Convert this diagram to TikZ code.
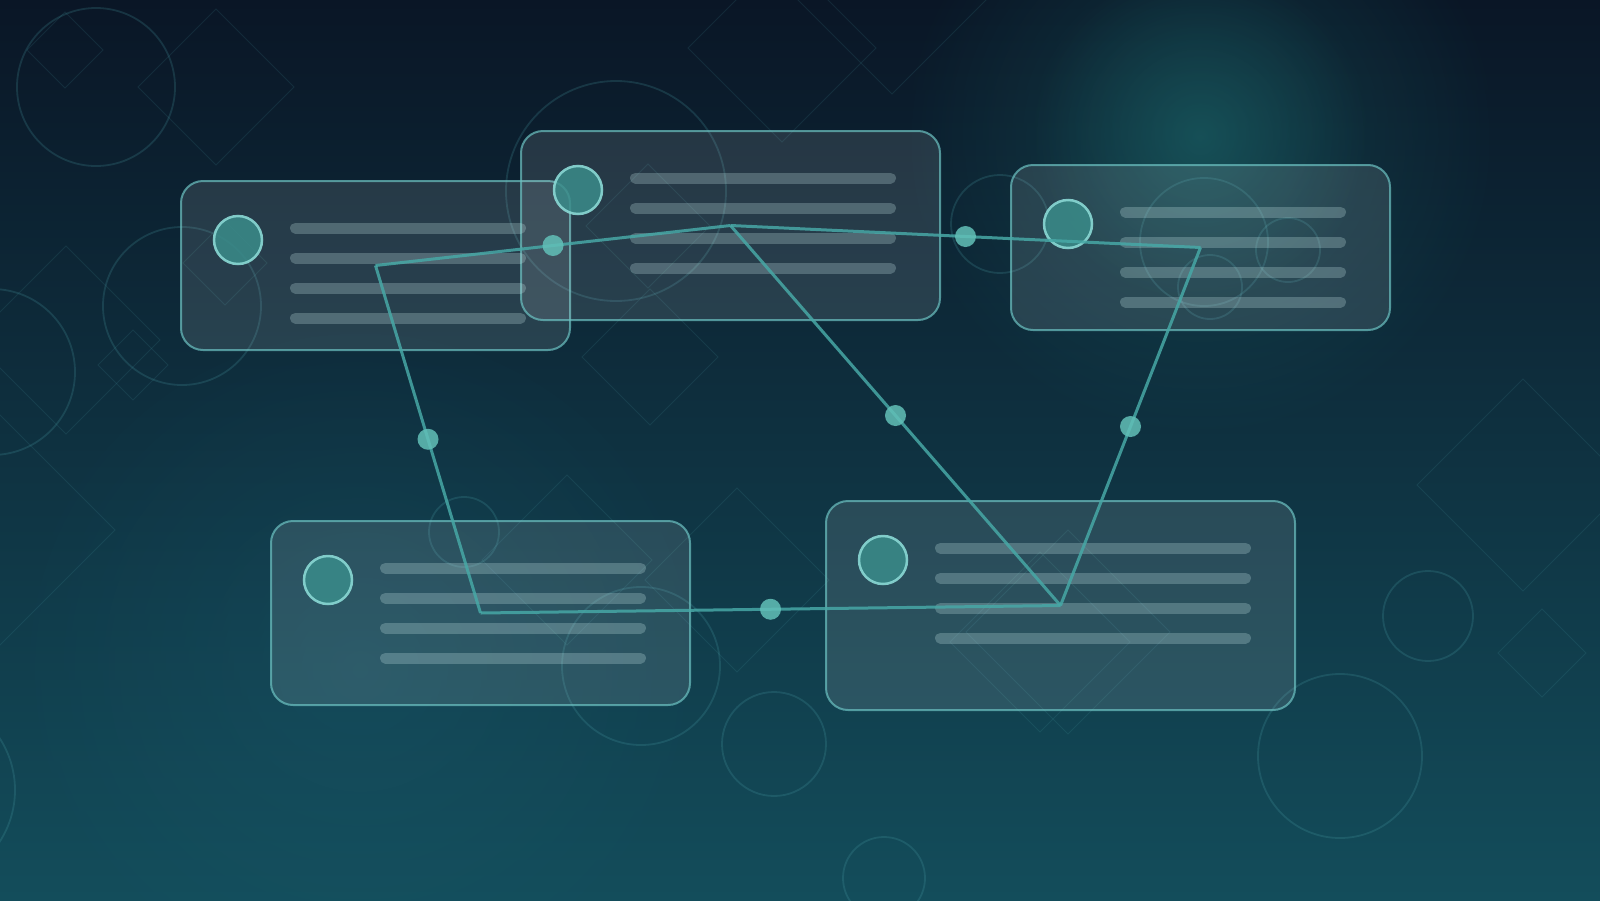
\documentclass[tikz,border=0pt]{standalone}
\usetikzlibrary{fadings,calc}
\definecolor{bgtop}{HTML}{0A1626}
\definecolor{bgmid}{HTML}{0E3243}
\definecolor{bgbot}{HTML}{134D5B}
\definecolor{glowc}{HTML}{1E7072}
\definecolor{glowb}{HTML}{1E6478}
\definecolor{deco}{HTML}{4FA8B0}
\definecolor{cardedge}{HTML}{6CC2C2}
\definecolor{avatarc}{HTML}{3A8C8A}
\definecolor{avataredge}{HTML}{8AD8D4}
\definecolor{barc}{HTML}{D0F0F0}
\definecolor{linkc}{HTML}{47A8A6}
\definecolor{dotc}{HTML}{62C0B8}
\tikzfading[name=glowfade, inner color=transparent!0, outer color=transparent!100]
\begin{document}
\begin{tikzpicture}[x=1pt,y=-1pt,
  decoc/.style={draw=deco, draw opacity=0.2, line width=1.8pt},
  decod/.style={draw=deco, draw opacity=0.13, line width=1pt},
  card/.style={rectangle, draw=cardedge, draw opacity=0.7, fill=white, fill opacity=0.11,
    line width=2pt, rounded corners=22pt, inner sep=0pt, outer sep=0pt},
  avatar/.style={circle, minimum size=48pt, inner sep=0pt, fill=avatarc, fill opacity=0.85,
    draw=avataredge, draw opacity=0.9, line width=2.5pt},
  barline/.style={draw=barc, draw opacity=0.25, line width=11pt, line cap=round},
  link/.style={draw=linkc, draw opacity=0.85, line width=3pt},
  dot/.style={circle, fill=dotc, fill opacity=0.85, minimum size=21pt, inner sep=0pt}]
\useasboundingbox (0,0) rectangle (1600,900);
% background
\shade[top color=bgtop, middle color=bgmid, bottom color=bgbot] (0,0) rectangle (1600,900);
\fill[glowc, path fading=glowfade, fill opacity=0.35] (1200,140) circle[radius=300pt];
\fill[glowc, path fading=glowfade, fill opacity=0.4] (1200,135) circle[radius=170pt];
\fill[glowb, path fading=glowfade, fill opacity=0.25] (360,670) circle[radius=360pt];
% decorative circles
\foreach \cx/\cy/\r in {96/87/79, 182/306/79, -8/372/83, 616/191/110, 1000/224/49,
  1204/242/64, 1210/287/32, 1288/250/32, 464/532/35, 641/666/79, 774/744/52,
  884/878/41, 1340/756/82, 1428/616/45, -80/790/95}
  \draw[decoc] (\cx,\cy) circle[radius=\r pt];
% decorative diamonds
\foreach \cx/\cy/\h in {216/87/78, 65/50/38, 66/340/94, 133/365/35, 225/263/42,
  650/357/68, 782/48/94, 892/0/94, 1523/485/106, 1542/653/44, 0/530/115,
  1068/632/102, 1040/642/90, 567/560/85, 737/580/92, 648/226/62}
  \draw[decod] (\cx,\cy-\h) -- (\cx+\h,\cy) -- (\cx,\cy+\h) -- (\cx-\h,\cy) -- cycle;
% cards
\node[card, minimum width=389pt, minimum height=169pt] (c1) at (375.5,265.5) {};
\node[card, minimum width=419pt, minimum height=189pt] (c2) at (730.5,225.5) {};
\node[card, minimum width=379pt, minimum height=165pt] (c3) at (1200.5,247.5) {};
\node[card, minimum width=419pt, minimum height=184pt] (c4) at (480.5,613) {};
\node[card, minimum width=469pt, minimum height=209pt] (c5) at (1060.5,605.5) {};
\foreach \c in {c1,c2,c3,c4,c5}{
  \node[avatar] (\c a) at ($(\c.north west)+(57,59)$) {};
  \foreach \dy in {47,77,107,137}
    \draw[barline] ($(\c.north west)+(114.5,\dy)$) -- ($(\c.north east)+(-49.5,\dy)$);
}
% connectors
\draw[link] (c1.center) -- node[dot] (m12) {} (c2.center);
\draw[link] (c2.center) -- node[dot] (m23) {} (c3.center);
\draw[link] (c1.center) -- node[dot] (m14) {} (c4.center);
\draw[link] (c2.center) -- node[dot] (m25) {} (c5.center);
\draw[link] (c3.center) -- node[dot] (m35) {} (c5.center);
\draw[link] (c4.center) -- node[dot] (m45) {} (c5.center);
\end{tikzpicture}
\end{document}
